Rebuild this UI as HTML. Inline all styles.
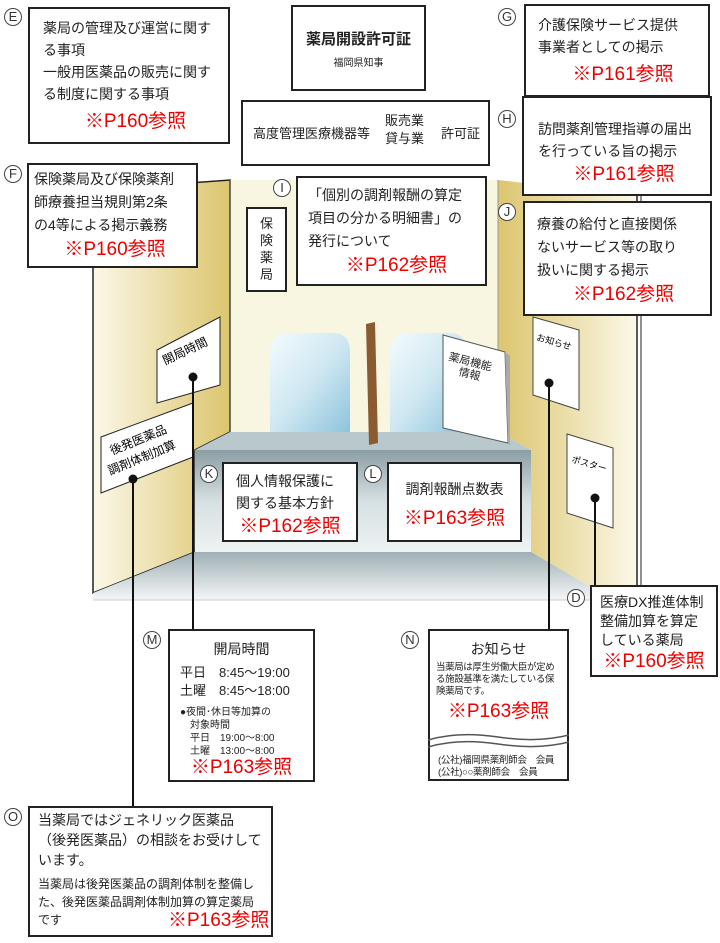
<!DOCTYPE html>
<html><head><meta charset="utf-8">
<style>
*{margin:0;padding:0;box-sizing:border-box}
body{width:720px;height:943px;background:#fff;position:relative;overflow:hidden;font-family:"Liberation Sans","Noto Sans CJK JP",sans-serif;color:#222}
.b{position:absolute;background:#fff;border:2px solid #222;font-size:14px;line-height:22px}
.r{color:#e00;font-size:19px;line-height:26px;text-align:center}
.c{position:absolute;width:18px;height:18px;border:1.5px solid #444;border-radius:50%;font-size:13px;line-height:15px;text-align:center;background:#fff;color:#333}
svg{position:absolute;left:0;top:0}
</style></head><body>
<svg width="720" height="943">
<defs>
<linearGradient id="lw" x1="0" x2="1"><stop offset="0" stop-color="#fbf8e8"/><stop offset="1" stop-color="#dcc56e"/></linearGradient>
<linearGradient id="rw" x1="0" x2="1"><stop offset="0" stop-color="#dcc56e"/><stop offset="1" stop-color="#fbf8e8"/></linearGradient>
<linearGradient id="cf" x1="0" y1="0" x2="0" y2="1"><stop offset="0" stop-color="#8a9ea4"/><stop offset=".5" stop-color="#d6e0e2"/><stop offset="1" stop-color="#eef2f3"/></linearGradient>
<linearGradient id="fl" x1="0" y1="0" x2="0" y2="1"><stop offset="0" stop-color="#9fb0b5"/><stop offset="1" stop-color="#f4f6f7"/></linearGradient>
<linearGradient id="gl" x1="0" y1="0" x2="1" y2="1"><stop offset="0" stop-color="#f4fbfd"/><stop offset=".5" stop-color="#cfe8f2"/><stop offset="1" stop-color="#8ec3dc"/></linearGradient>
</defs>
<rect x="230" y="180" width="268" height="252" fill="#f8f5e0"/>
<polygon points="93,190 230,180 230,432 195,450 195,552 93,593" fill="url(#lw)" stroke="#222" stroke-width="1.5"/>
<polygon points="498,180 637,196 637,600 613,600 531,552 531,450 498,432" fill="url(#rw)"/>
<line x1="637" y1="196" x2="637" y2="600" stroke="#222" stroke-width="1.5"/>
<line x1="641" y1="196" x2="641" y2="600" stroke="#222" stroke-width="1"/>
<line x1="230" y1="180" x2="230" y2="432" stroke="#555"/>
<line x1="498" y1="180" x2="498" y2="432" stroke="#999"/>
<path d="M270,432 V352 Q270,333 290,333 H333 Q350,333 350,352 V432 Z" fill="url(#gl)"/>
<path d="M390,432 V352 Q390,333 410,333 H450 Q466,333 466,352 V432 Z" fill="url(#gl)"/>
<polygon points="230,432 498,432 531,450 195,450" fill="#b8c8cc"/>
<rect x="195" y="450" width="336" height="102" fill="url(#cf)"/>
<polygon points="195,552 531,552 613,600 93,600 93,593" fill="url(#fl)"/>
<line x1="93" y1="600" x2="613" y2="600" stroke="#ccc"/>
<polygon points="366,324 375,322 378,443 369,445" fill="#8a5a30"/>
<polygon points="443,335 505,352 508,443 443,428" fill="#fff" stroke="#555"/>
<polygon points="505,352 510,356 510,446 508,443" fill="#aaa"/>
<text x="448" y="360" font-size="11" transform="rotate(14 448 360)" fill="#222">薬局機能</text>
<text x="458" y="375" font-size="11" transform="rotate(14 458 375)" fill="#222">情報</text>
<polygon points="157,350 220,317 220,385 157,403" fill="#fff" stroke="#222"/>
<text x="165" y="365" font-size="12" transform="rotate(-25 165 365)">開局時間</text>
<polygon points="101,437 193,403 193,457 101,493" fill="#fff" stroke="#222"/>
<text x="112" y="455" font-size="12" transform="rotate(-22 112 455)">後発医薬品</text>
<text x="110" y="475" font-size="12" transform="rotate(-22 110 475)">調剤体制加算</text>
<polygon points="533,317 579,330 579,410 533,395" fill="#fff" stroke="#444"/>
<text x="536" y="340" font-size="9" transform="rotate(16 536 340)">お知らせ</text>
<polygon points="567,434 613,448 613,528 567,513" fill="#fff" stroke="#444"/>
<text x="571" y="462" font-size="9" transform="rotate(16 571 462)">ポスター</text>
<g stroke="#111" stroke-width="2">
<line x1="193" y1="377" x2="193" y2="630"/>
<line x1="133" y1="479" x2="133" y2="806"/>
<line x1="549" y1="383" x2="549" y2="630"/>
<line x1="595" y1="498" x2="595" y2="586"/>
</g>
<g fill="#111"><circle cx="193" cy="377" r="4.5"/><circle cx="133" cy="479" r="4.5"/><circle cx="549" cy="383" r="4.5"/><circle cx="595" cy="498" r="4.5"/></g>
</svg>

<div class="c" style="left:4px;top:8px">E</div>
<div class="b" style="left:28px;top:7px;width:202px;height:137px;padding:8px 0 0 13px">薬局の管理及び運営に関す<br>る事項<br>一般用医薬品の販売に関す<br>る制度に関する事項<div class="r" style="margin-top:4px">※P160参照</div></div>

<div class="b" style="left:291px;top:5px;width:135px;height:86px;text-align:center;padding-top:22px;font-size:15px;font-weight:bold">薬局開設許可証<div style="font-size:10px;font-weight:normal;line-height:14px;margin-top:6px">福岡県知事</div></div>

<div class="b" style="left:241px;top:100px;width:249px;height:66px;font-size:13px">
<span style="position:absolute;left:10px;top:21px">高度管理医療機器等</span>
<span style="position:absolute;left:142px;top:10px;line-height:18px">販売業<br>貸与業</span>
<span style="position:absolute;left:198px;top:21px">許可証</span></div>

<div class="c" style="left:498px;top:8px">G</div>
<div class="b" style="left:524px;top:4px;width:186px;height:93px;padding:8px 0 0 12px">介護保険サービス提供<br>事業者としての掲示<div class="r" style="margin-top:4px">※P161参照</div></div>
<div class="c" style="left:498px;top:110px">H</div>
<div class="b" style="left:522px;top:96px;width:190px;height:100px;padding:20px 0 0 14px">訪問薬剤管理指導の届出<br>を行っている旨の掲示<div class="r" style="margin-top:0px">※P161参照</div></div>
<div class="c" style="left:498px;top:203px">J</div>
<div class="b" style="left:523px;top:201px;width:189px;height:115px;padding:10px 0 0 12px;line-height:23px">療養の給付と直接関係<br>ないサービス等の取り<br>扱いに関する掲示<div class="r">※P162参照</div></div>

<div class="c" style="left:4px;top:165px">F</div>
<div class="b" style="left:27px;top:163px;width:171px;height:105px;padding:3px 0 0 5px;line-height:23px">保険薬局及び保険薬剤<br>師療養担当規則第2条<br>の4等による掲示義務<div class="r">※P160参照</div></div>

<div class="b" style="left:246px;top:207px;width:41px;height:85px;font-size:13px;line-height:17px;text-align:center;padding-top:6px">保<br>険<br>薬<br>局</div>
<div class="c" style="left:273px;top:179px">I</div>
<div class="b" style="left:296px;top:176px;width:191px;height:110px;padding:6px 0 0 10px;line-height:23px">「個別の調剤報酬の算定<br>項目の分かる明細書」の<br>発行について<div class="r">※P162参照</div></div>

<div class="c" style="left:200px;top:465px">K</div>
<div class="b" style="left:222px;top:462px;width:136px;height:80px;padding:6px 0 0 12px">個人情報保護に<br>関する基本方針<div class="r" style="margin-left:-12px">※P162参照</div></div>
<div class="c" style="left:364px;top:465px">L</div>
<div class="b" style="left:387px;top:462px;width:135px;height:80px;padding:14px 0 0 0;text-align:center">調剤報酬点数表<div class="r" style="margin-top:6px">※P163参照</div></div>

<div class="c" style="left:567px;top:589px">D</div>
<div class="b" style="left:590px;top:585px;width:128px;height:92px;padding:6px 0 0 8px;line-height:19px">医療DX推進体制<br>整備加算を算定<br>している薬局<div class="r" style="margin-left:-8px;line-height:24px">※P160参照</div></div>

<div class="c" style="left:143px;top:631px">M</div>
<div class="b" style="left:168px;top:629px;width:147px;height:153px;font-size:13px">
<div style="text-align:center;margin-top:7px;font-size:14px">開局時間</div>
<div style="padding-left:10px;line-height:18px;margin-top:4px">平日　8:45～19:00<br>土曜　8:45～18:00</div>
<div style="padding-left:10px;font-size:10px;line-height:13px;margin-top:6px">●夜間･休日等加算の<br>　対象時間<br>　平日　19:00～8:00<br>　土曜　13:00～8:00</div>
<div class="r" style="line-height:20px">※P163参照</div></div>

<div class="c" style="left:401px;top:631px">N</div>
<div class="b" style="left:428px;top:629px;width:141px;height:152px">
<div style="text-align:center;margin-top:7px;font-size:14px">お知らせ</div>
<div style="padding-left:6px;font-size:9.5px;line-height:12px;margin-top:2px;letter-spacing:-0.4px;white-space:nowrap">当薬局は厚生労働大臣が定め<br>る施設基準を満たしている保<br>険薬局です。</div>
<div class="r" style="line-height:28px">※P163参照</div>
<svg width="141" height="20" style="position:absolute;left:-2px;top:100px"><path d="M0,9 Q30,0 70,6 T141,4" fill="none" stroke="#555" stroke-width="1.5"/><path d="M0,16 Q30,7 70,13 T141,11" fill="none" stroke="#555" stroke-width="1.5"/></svg>
<div style="position:absolute;left:8px;top:124px;font-size:9.5px;line-height:12px;white-space:nowrap;letter-spacing:-0.3px">(公社)福岡県薬剤師会　会員<br>(公社)○○薬剤師会　会員</div></div>

<div class="c" style="left:4px;top:808px">O</div>
<div class="b" style="left:28px;top:806px;width:245px;height:131px;padding:2px 0 0 8px;line-height:20px;font-size:14px">当薬局ではジェネリック医薬品<br>（後発医薬品）の相談をお受けして<br>います。
<div style="font-size:12px;line-height:18px;margin-top:5px">当薬局は後発医薬品の調剤体制を整備し<br>た、後発医薬品調剤体制加算の算定薬局<br>です</div>
<div class="r" style="position:absolute;left:138px;top:100px">※P163参照</div></div>
</body></html>
